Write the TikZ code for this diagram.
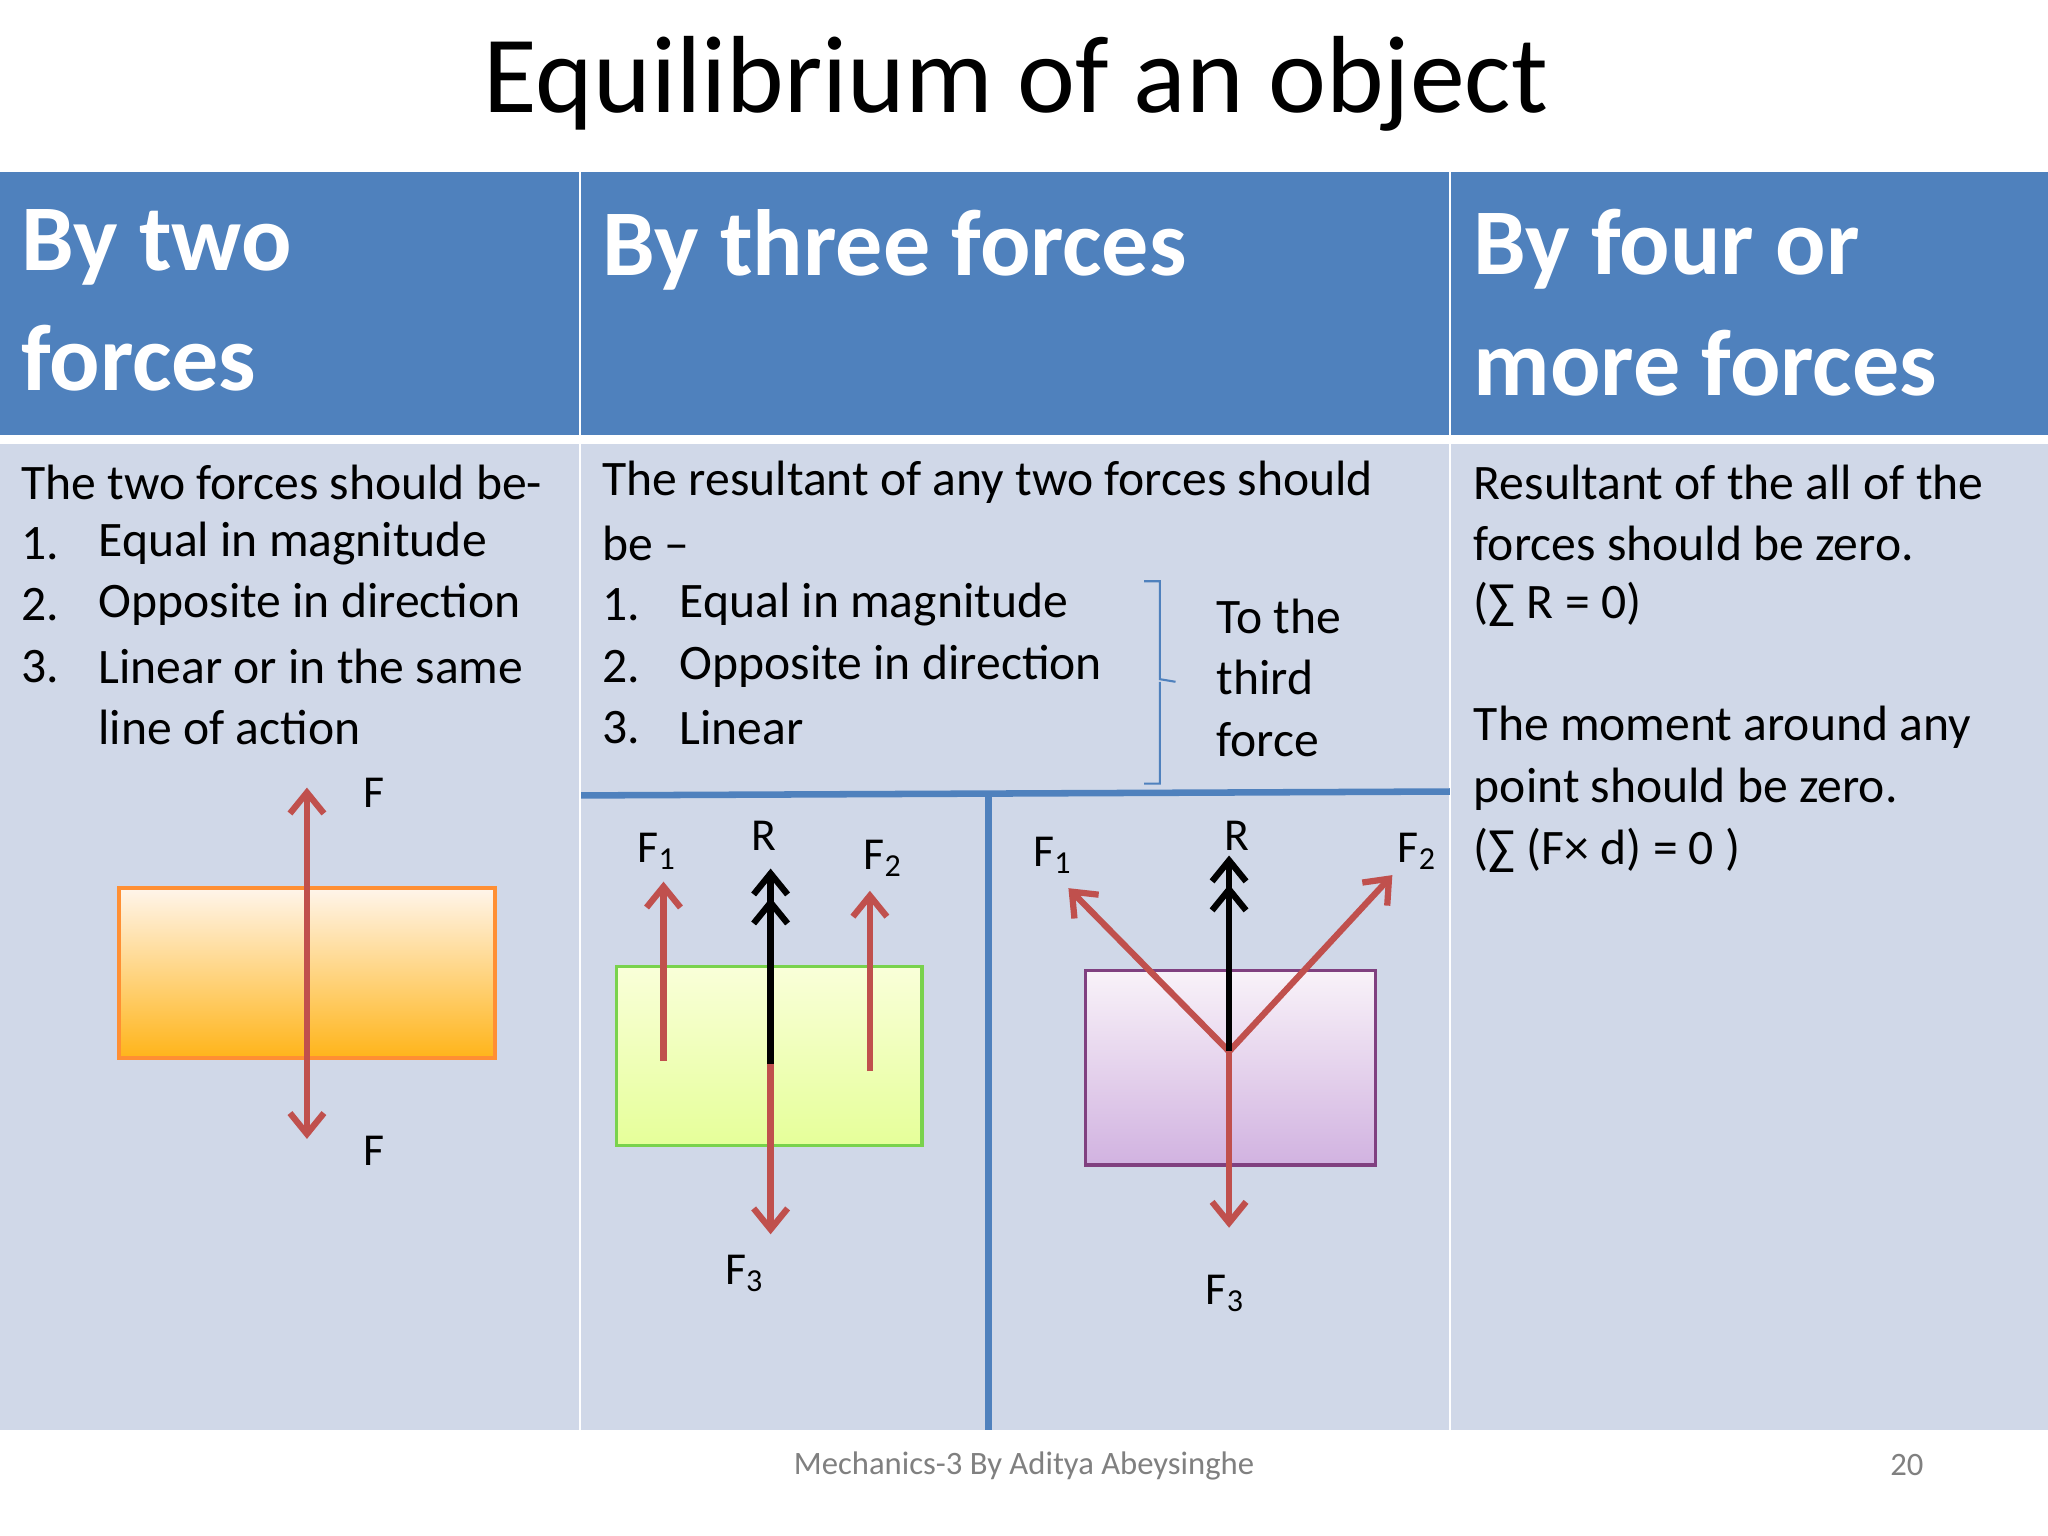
\documentclass[tikz,border=0pt]{standalone}
\usepackage{fontspec}
\setmainfont{Carlito}
\usetikzlibrary{arrows.meta,decorations.pathreplacing}
\definecolor{hdr}{HTML}{4F81BD}
\definecolor{bodyc}{HTML}{D0D8E8}
\definecolor{redc}{HTML}{C0504D}
\tikzset{
 body/.style={anchor=west,font=\fontsize{19}{20}\selectfont,inner sep=0pt},
 head/.style={anchor=north west,align=left,text=white,font=\fontsize{36}{46}\selectfont\bfseries,inner sep=0pt},
 lab/.style={font=\fontsize{17.5}{18}\selectfont,inner sep=0pt},
 rarr/.style={redc,line width=2.4pt,-{Straight Barb[length=8pt,width=13pt,line width=2.4pt]}},
 barr/.style={black,line width=2.6pt,-{Straight Barb[length=8pt,width=13pt,line width=2.4pt]Straight Barb[length=8pt,width=13pt,line width=2.4pt]}},
}
\begin{document}
\begin{tikzpicture}[x=0.5pt,y=-0.5pt]
\useasboundingbox (0,0) rectangle (1568,1176);
\fill[white] (0,0) rectangle (1568,1176);
\node[font=\fontsize{42}{46}\selectfont] (title) at (778,64) {Equilibrium of an object};
% header
\fill[hdr] (0,132) rectangle (443,333);
\fill[hdr] (445,132) rectangle (1109,333);
\fill[hdr] (1111,132) rectangle (1568,333);
\fill[bodyc] (0,340) rectangle (443,1095);
\fill[bodyc] (445,340) rectangle (1109,1095);
\fill[bodyc] (1111,340) rectangle (1568,1095);
\node[head] (h1) at (16,160) {By two\\forces};
\node[head] (h2) at (461,160) {By three forces};
\node[head] (h3) at (1128,160) {By four or\\more forces};
% col1
\node[body] (a0) at (16,369) {The two forces should be-};
\node[body] (a1) at (16,416) {1.};\node[body] (a1t) at (75,416) {Equal in magnitude};
\node[body] (a2) at (16,463) {2.};\node[body] (a2t) at (75,463) {Opposite in direction};
\node[body] (a3) at (16,510) {3.};\node[body] (a3t) at (75,510) {Linear or in the same};
\node[body] (a4) at (75,557) {line of action};
\shade[top color=orange!8,bottom color=orange!65!yellow!90] (91,680) rectangle (379,810);
\draw[orange!90!red!80,line width=1.5pt] (91,680) rectangle (379,810);
\coordinate (c1) at (235,740);
\coordinate (c1t) at (235,603);
\coordinate (c1b) at (235,872);
\draw[rarr] (c1) -- (c1t);
\draw[rarr] (c1) -- (c1b);
\node[lab] (fa) at (286,607) {F};
\node[lab] (fb) at (286,881) {F};
% col2
\node[body] (b0) at (461,369) {The resultant of any two forces should};
\node[body] (b01) at (461,416) {be –};
\node[body] (b1) at (461,463) {1.};\node[body] (b1t) at (520,463) {Equal in magnitude};
\node[body] (b2) at (461,510) {2.};\node[body] (b2t) at (520,510) {Opposite in direction};
\node[body] (b3) at (461,557) {3.};\node[body] (b3t) at (520,557) {Linear};
\draw[hdr,line width=0.8pt] (876,445) -- (888,445) -- (888,520) -- (900,522) (888,522) -- (888,600) -- (876,600);
\node[body] (t1) at (931,472) {To the};
\node[body] (t2) at (931,519) {third};
\node[body] (t3) at (931,566) {force};
\draw[hdr,line width=2.5pt] (445,609) -- (1110,606);
\draw[hdr,line width=2.5pt] (757,608) -- (757,1095);
% green box
\shade[top color=green!15!yellow!15,bottom color=green!25!yellow!40] (472,740) rectangle (706,877);
\draw[green!50!olive!70,line width=1.3pt] (472,740) rectangle (706,877);
\coordinate (g1b) at (508,812);\coordinate (g1t) at (508,675);
\coordinate (g2b) at (666,820);\coordinate (g2t) at (666,682);
\coordinate (gc) at (590,815);\coordinate (gr) at (590,665);\coordinate (g3) at (590,945);
\draw[rarr] (g1b) -- (g1t);
\draw[rarr] (g2b) -- (g2t);
\draw[barr] (gc) -- (gr);
\draw[rarr] (gc) -- (g3);
\node[lab] (lf1) at (503,652) {F\textsubscript{1}};
\node[lab] (lr) at (585,640) {R};
\node[lab] (lf2) at (676,657) {F\textsubscript{2}};
\node[lab] (lf3) at (570,975) {F\textsubscript{3}};
% purple box
\shade[top color=violet!5,bottom color=blue!20!violet!30] (831,743) rectangle (1053,892);
\draw[violet!50!gray,line width=1.3pt] (831,743) rectangle (1053,892);
\coordinate (pc) at (941,805);
\coordinate (p1) at (818,680);\coordinate (p2) at (1066,670);
\coordinate (pr) at (941,655);\coordinate (p3) at (941,940);
\draw[rarr] (pc) -- (p1);
\draw[rarr] (pc) -- (p2);
\draw[barr] (pc) -- (pr);
\draw[rarr] (pc) -- (p3);
\node[lab] (mf1) at (806,655) {F\textsubscript{1}};
\node[lab] (mr) at (947,640) {R};
\node[lab] (mf2) at (1085,652) {F\textsubscript{2}};
\node[lab] (mf3) at (938,990) {F\textsubscript{3}};
% col3
\node[body] (c0) at (1128,369) {Resultant of the all of the};
\node[body] (c01) at (1128,416) {forces should be zero.};
\node[body] (c02) at (1128,463) {(∑ R = 0)};
\node[body] (c03) at (1128,557) {The moment around any};
\node[body] (c04) at (1128,604) {point should be zero.};
\node[body] (c05) at (1128,651) {(∑ (F× d) = 0 )};
% footer
\node[text=gray,font=\fontsize{12.5}{14}\selectfont] (foot) at (784,1122) {Mechanics-3 By Aditya Abeysinghe};
\node[text=gray,font=\fontsize{12.5}{14}\selectfont] (pg) at (1460,1122) {20};
\end{tikzpicture}
\end{document}
